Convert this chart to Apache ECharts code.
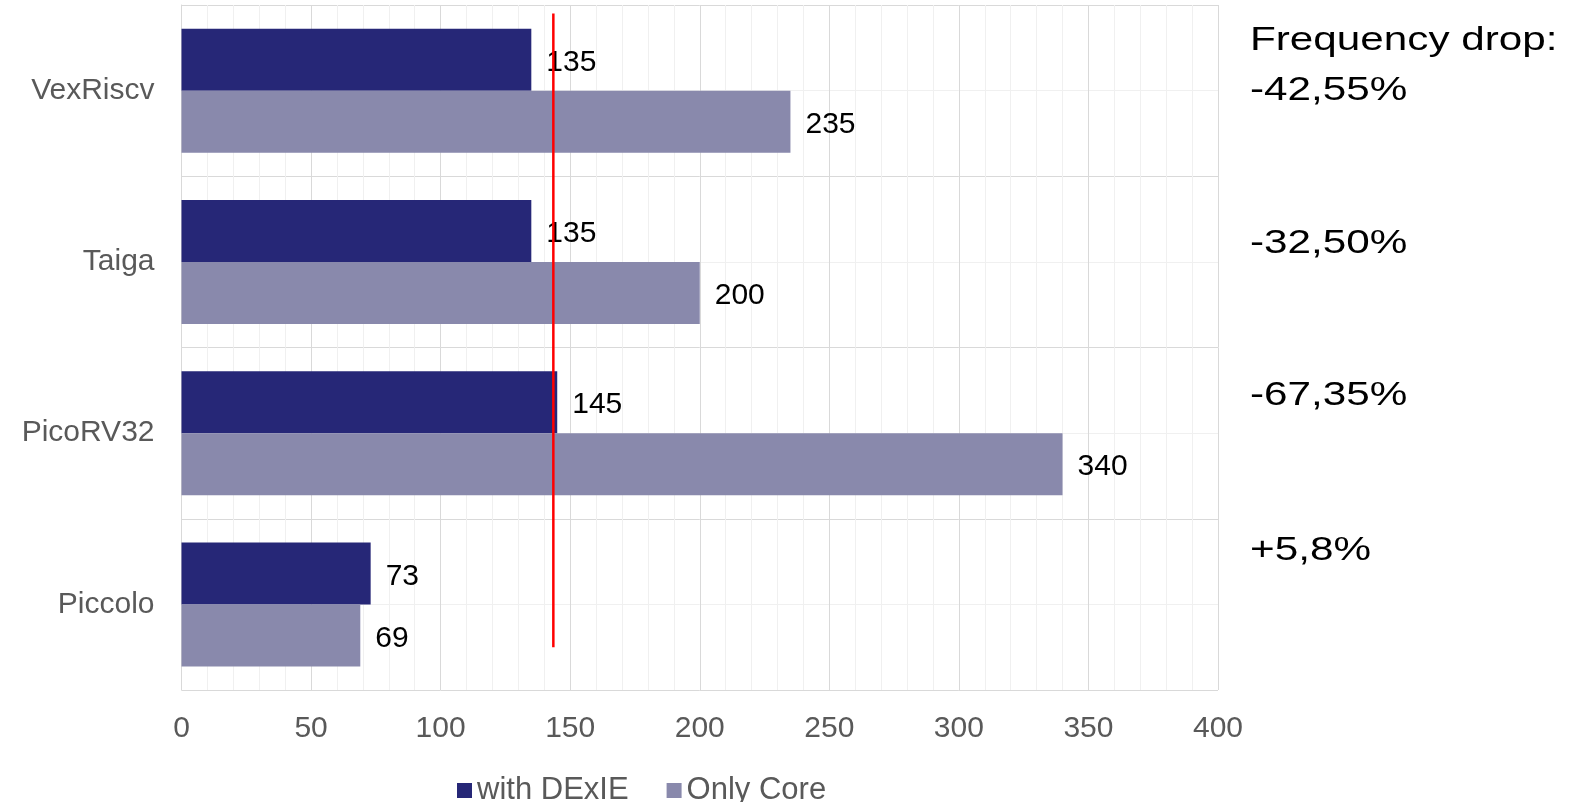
<!DOCTYPE html>
<html>
<head>
<meta charset="utf-8">
<script src="https://cdn.jsdelivr.net/npm/echarts@6/dist/echarts.min.js"></script>
<style>
html,body{margin:0;padding:0;background:#fff;}
#c{width:1579px;height:802px;}
</style>
</head>
<body>
<div id="c"></div>
<script>
const categories = ['VexRiscv', 'Taiga', 'PicoRV32', 'Piccolo'];
const seriesNames = ['with DExIE', 'Only Core'];
const withDexie = [135, 135, 145, 73];
const onlyCore = [235, 200, 340, 69];
const refLineX = 143.5;
const dropTitle = 'Frequency drop:';
const dropLabels = ['-42,55%', '-32,50%', '-67,35%', '+5,8%'];
const dropCenters = [91, 244, 396, 551];

const chart = echarts.init(document.getElementById('c'), null, {renderer: 'canvas'});
const font = '"Liberation Sans", Arial, sans-serif';

const graphics = [{
  type: 'text', x: 1250, y: 41, scaleX: 1.28,
  style: {text: dropTitle, font: '33px ' + font, fill: '#000', verticalAlign: 'middle'}
}];
dropLabels.forEach((t, i) => {
  graphics.push({
    type: 'text', x: 1250, y: dropCenters[i], scaleX: 1.28,
    style: {text: t, font: '33px ' + font, fill: '#000', verticalAlign: 'middle'}
  });
});

const option = {
  animation: false,
  textStyle: {fontFamily: font},
  grid: {left: 181.5, right: 361, top: 5, bottom: 112, containLabel: false},
  legend: {
    data: seriesNames,
    icon: 'rect', itemWidth: 15, itemHeight: 15,
    left: 452, top: 770, itemGap: 38,
    textStyle: {color: '#595959', fontSize: 31, fontFamily: font}
  },
  xAxis: {
    type: 'value', min: 0, max: 400, interval: 50,
    axisLine: {show: false}, axisTick: {show: false},
    axisLabel: {color: '#595959', fontSize: 30, margin: 24, fontFamily: font},
    splitLine: {show: true, lineStyle: {color: '#d9d9d9', width: 1}},
    minorTick: {show: false, splitNumber: 5},
    minorSplitLine: {show: true, lineStyle: {color: '#f0f0f0', width: 1}}
  },
  yAxis: [{
    type: 'category', data: categories, inverse: true,
    axisLine: {show: true, lineStyle: {color: '#d9d9d9'}},
    axisTick: {show: false},
    axisLabel: {color: '#595959', fontSize: 30, margin: 27, fontFamily: font},
    splitLine: {show: false}
  }, {
    type: 'value', min: 0, max: 8, interval: 1, position: 'right',
    axisLine: {show: false}, axisTick: {show: false}, axisLabel: {show: false},
    splitLine: {show: true, lineStyle: {color: ['#d9d9d9', '#f0f0f0'], width: 1}}
  }],
  series: [{
    name: seriesNames[0], type: 'bar', data: withDexie,
    barWidth: 62, barGap: '0%',
    itemStyle: {color: '#262777'},
    label: {show: true, position: 'right', distance: 15, offset: [0, 3], color: '#000', fontSize: 30, fontFamily: font}
  }, {
    name: seriesNames[1], type: 'bar', data: onlyCore,
    barWidth: 62, barGap: '0%',
    itemStyle: {color: '#8989ac'},
    label: {show: true, position: 'right', distance: 15, offset: [0, 3], color: '#000', fontSize: 30, fontFamily: font}
  }, {
    name: 'ref', type: 'line', yAxisIndex: 1,
    data: [[refLineX, 0.5], [refLineX, 7.9]],
    symbol: 'none', lineStyle: {color: '#ff0000', width: 2.5}, z: 5,
    silent: true
  }],
  graphic: graphics
};
chart.setOption(option);
</script>
</body>
</html>
